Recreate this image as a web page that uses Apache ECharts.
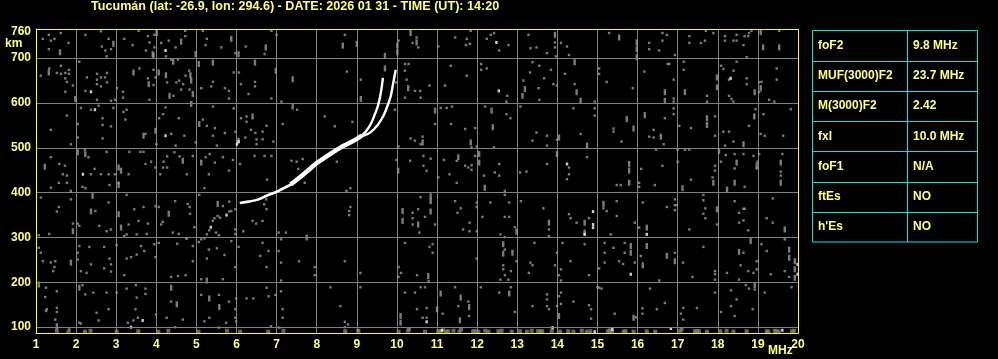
<!DOCTYPE html>
<html><head><meta charset="utf-8">
<script src="https://cdn.jsdelivr.net/npm/echarts@6/dist/echarts.min.js"></script>
<style>html,body{margin:0;padding:0;background:#000;}#c{width:998px;height:359px;}</style>
</head><body><div id="c"></div><script>
const titleText = 'Tucumán (lat: -26.9, lon: 294.6) - DATE: 2026 01 31 - TIME (UT): 14:20';
const xRange = [1, 20];
const yRange = [87, 765];
const yTicks = [100, 200, 300, 400, 500, 600, 700, 760];
const yGrid = [100, 200, 300, 400, 500, 600, 700];
const tableLabels = ['foF2', 'MUF(3000)F2', 'M(3000)F2', 'fxI', 'foF1', 'ftEs', "h'Es"];
const tableValues = ['9.8 MHz', '23.7 MHz', '2.42', '10.0 MHz', 'N/A', 'NO', 'NO'];

// trace (frequency MHz, virtual height km)
const traceLow = [[6.08,377],[6.3,380],[6.55,385],[6.75,393],[7.0,402],[7.2,411],[7.4,420]];
const traceMid = [[7.35,418],[7.55,432],[7.75,447],[8.0,466],[8.2,478],[8.4,490],[8.6,501],[8.8,510],[9.0,520],[9.12,527]];
const traceBranchA = [[9.12,527],[9.25,539],[9.37,557],[9.45,575],[9.52,592],[9.58,614],[9.62,635],[9.65,656]];
const traceBranchB = [[9.12,526],[9.2,528],[9.33,534],[9.51,550],[9.66,571],[9.79,600],[9.85,617],[9.89,636],[9.93,655],[9.97,674]];

const noiseDots = [
[1.32,752],[1.17,743],[1.37,739],[1.46,743],[1.62,756],[1.81,734],[1.32,720],[2.23,752],[2.62,760],[2.81,743],[2.64,726],[2.73,717],[2.87,720],[2.76,704],[3.2,743],[3.41,729],[3.56,761],[3.79,749],[3.95,752],[3.83,735],[3.95,724],[3.74,717],[4.12,734],[4.31,739],[4.24,704],[4.48,724],[4.72,761],[4.72,749],[5.26,743],[5.23,729],[5.16,761],[5.62,724],[5.97,711],[6.23,726],[6.7,709],[6.87,761],[7.0,752],
[1.33,677],[1.12,661],[1.52,667],[1.62,683],[1.62,665],[1.73,667],[1.82,674],[1.82,665],[1.73,655],[1.77,647],[1.92,639],[1.73,625],[2.08,692],[2.27,657],[2.23,627],[2.52,665],[2.52,652],[2.52,642],[2.62,657],[2.72,657],[2.77,667],[2.77,646],[2.62,637],[2.52,607],[3.02,633],[3.17,625],[3.17,612],[2.87,605],[2.97,607],[3.58,677],[3.79,655],[3.93,674],[3.98,657],[3.93,640],[3.83,607],[4.37,697],[4.54,697],[4.27,646],[4.43,616],[4.5,646],[4.57,650],[4.67,642],[4.82,672],[4.73,661],[4.62,630],[4.83,630],[5.12,633],[5.41,647],[5.37,637],[5.71,633],[5.81,627],[5.81,610],[5.93,668],[6.06,668],[6.11,642],[6.46,647],[6.46,637],[6.3,620],[6.87,610],[7.12,603],
[1.77,572],[1.37,540],[2.12,589],[2.37,585],[2.56,594],[2.66,566],[2.66,551],[2.87,548],[2.66,521],[2.04,553],[2.04,523],[1.87,508],[2.93,589],[3.18,580],[3.26,585],[3.23,563],[3.73,531],[4.07,566],[4.17,575],[4.23,590],[4.0,508],[4.37,531],[4.56,566],[4.7,527],[4.48,505],[4.98,512],[5.16,563],[5.26,549],[5.46,544],[5.41,592],[5.41,527],[5.51,505],[5.71,533],[5.93,588],[5.97,536],[6.11,566],[6.25,570],[6.25,558],[6.36,540],[6.47,533],[6.22,523],[6.5,519],[6.65,519],[6.5,508],[6.75,549],[6.65,536],[6.92,514],[7.15,553],
[1.37,479],[1.58,464],[1.72,460],[1.77,438],[1.67,441],[2.22,496],[2.31,479],[2.37,441],[2.46,453],[2.76,491],[2.62,441],[2.81,441],[2.97,441],[3.33,491],[3.31,441],[3.6,491],[3.68,491],[3.73,464],[3.87,469],[3.98,456],[4.18,469],[4.27,481],[4.17,456],[4.27,456],[4.1,441],[4.45,490],[4.58,481],[4.76,441],[4.91,482],[5.23,479],[5.33,486],[5.46,467],[5.66,479],[5.81,449],[5.91,473],[6.09,464],[5.31,441],[6.45,482],[6.7,482],[6.87,482],[6.76,429],
[8.7,752],[10.04,739],[10.39,734],[10.49,746],[10.53,724],[11.03,726],[11.45,746],[11.72,729],[11.82,732],[11.74,743],[11.84,761],[12.34,752],[12.24,743],[12.42,756],[12.55,717],[12.78,729],[13.28,752],[13.33,722],[13.48,724],[8.75,670],[9.1,652],[9.98,646],[10.2,687],[10.29,687],[10.2,672],[10.24,652],[10.2,612],[10.45,627],[10.58,627],[10.59,612],[10.81,639],[11.2,639],[11.34,683],[11.74,661],[12.1,687],[12.1,674],[12.24,677],[12.75,616],[12.73,603],[13.15,650],[13.32,668],[13.38,691],[13.55,683],[13.53,633],[13.55,607],[7.51,585],[8.2,570],[8.45,548],[8.89,558],[9.95,585],[11.09,589],[11.24,589],[11.37,592],[10.95,553],[11.35,553],[11.7,542],[11.95,544],[12.2,592],[12.73,575],[12.83,566],[13.08,592],[13.48,534],[13.38,516],[10.34,521],[10.45,516],[10.64,525],[10.59,508],[10.04,503],[11.86,501],[11.99,503],[12.42,501],[11.49,471],[11.17,473],[10.84,476],[10.66,482],[10.66,460],[10.33,471],[9.99,473],[10.74,449],[11.03,434],[11.31,441],[11.7,460],[11.78,456],[11.86,461],[11.86,451],[11.95,482],[12.17,438],[12.55,464],[12.44,445],[12.55,438],[13.07,445],[13.23,447],[8.5,469],[7.5,469],[7.65,475],[7.37,471],[7.54,453],
[13.94,735],[13.94,724],[14.09,734],[14.24,726],[13.74,711],[13.96,704],[14.29,707],[13.84,674],[14.19,665],[13.67,655],[13.9,642],[13.99,639],[14.43,642],[15.29,756],[15.04,677],[15.04,665],[15.23,647],[14.93,603],[15.88,633],[16.29,734],[16.29,720],[16.54,717],[16.62,756],[16.73,752],[16.62,739],[16.17,670],[16.75,687],[16.79,687],[16.9,652],[16.9,610],[16.9,603],[16.93,707],[17.15,692],[17.15,674],[17.29,749],[17.29,734],[17.58,734],[17.68,739],[17.7,761],[17.89,756],[17.73,616],[17.73,603],[18.08,683],[18.14,676],[18.28,652],[18.39,672],[18.47,692],[18.72,655],[18.72,642],[18.28,616],[18.34,609],[18.39,603],[18.18,749],[18.18,739],[18.39,739],[18.47,752],[18.47,739],[18.64,729],[18.67,749],[18.76,749],[18.78,756],[18.84,761],[18.72,702],[19.53,761],[19.47,677],[19.47,652],[19.03,646],[19.09,647],[19.03,624],[19.28,607],[19.41,603],
[14.4,588],[14.93,588],[14.93,572],[14.58,531],[13.74,527],[13.99,518],[13.74,505],[15.4,543],[15.4,536],[15.6,514],[16.4,540],[16.29,525],[16.4,523],[16.65,508],[16.68,566],[16.9,588],[16.9,575],[17.04,549],[17.33,544],[17.93,570],[17.93,527],[18.14,536],[18.28,536],[18.18,505],[18.39,514],[18.78,549],[19.07,531],[19.17,527],[19.14,575],[19.82,586],[19.63,527],[18.94,586],[13.74,464],[14.29,456],[14.29,441],[14.24,430],[14.74,479],[16.09,453],[16.46,496],[16.62,460],[17.0,496],[17.0,469],[17.18,496],[17.29,496],[17.33,429],[17.93,460],[17.93,449],[17.87,434],[18.08,469],[18.2,484],[18.42,486],[18.42,454],[18.64,486],[18.89,482],[18.99,469],[19.03,486],[18.97,454],[19.61,486],[19.57,447],[19.57,438],
[1.37,411],[1.57,422],[1.77,422],[1.87,404],[2.16,413],[2.23,410],[2.83,417],[3.06,422],[1.12,389],[1.57,368],[1.52,358],[1.87,385],[1.92,331],[2.04,331],[2.08,326],[2.48,359],[2.58,326],[2.81,378],[2.87,318],[2.76,314],[1.33,308],[1.07,305],[3.26,395],[3.31,329],[3.45,363],[3.2,303],[3.26,307],[3.51,307],[3.68,368],[3.76,308],[3.98,370],[4.06,368],[4.16,335],[4.12,329],[3.56,337],[3.79,331],[4.41,311],[4.56,308],[4.47,381],[4.78,375],[4.84,353],[4.76,298],[4.95,323],[4.83,368],[5.07,395],[5.2,410],[5.66,370],[5.82,380],[5.87,359],[5.97,363],[5.97,318],[5.97,308],[6.17,314],[6.4,337],[6.49,331],[6.65,337],[6.75,363],[6.69,374],[6.74,385],
[5.26,307],[5.32,316],[5.41,337],[5.53,348],[5.59,344],[5.49,311],[5.56,305],[5.82,358],[5.45,343],[5.2,298],[5.06,290],
[7.05,311],[7.23,311],[7.11,296],[7.05,270],[1.07,277],[1.12,266],[1.17,247],[1.37,244],[1.48,247],[1.46,234],[1.43,225],[2.08,281],[2.04,266],[2.04,251],[2.12,225],[2.26,221],[2.37,240],[2.33,279],[2.7,279],[2.7,231],[2.87,224],[2.87,240],[2.83,253],[3.01,283],[3.2,216],[3.26,253],[3.37,256],[3.51,262],[3.62,281],[3.7,270],[3.95,285],[3.98,256],[4.06,288],[4.37,212],[4.54,214],[4.73,216],[4.91,247],[4.91,281],[4.52,286],[4.75,298],[5.12,296],[5.31,273],[5.26,253],[5.51,276],[5.7,261],[5.87,292],[6.05,279],[5.97,234],[5.12,207],[5.66,207],[6.59,259],[6.75,234],[6.8,270],[6.65,288],[7.11,244],[7.11,204],
[1.25,188],[1.23,167],[1.27,140],[1.25,136],[1.52,180],[1.52,143],[1.52,134],[1.48,117],[2.16,194],[2.23,173],[2.43,177],[2.76,177],[2.51,132],[2.81,140],[2.56,115],[2.08,110],[2.12,108],[1.83,95],[3.01,177],[3.26,186],[3.49,194],[3.51,166],[3.73,186],[3.73,174],[3.48,140],[3.54,121],[3.43,115],[3.29,110],[3.99,128],[4.26,121],[4.37,157],[4.47,100],[4.66,117],[5.12,172],[5.56,172],[5.81,157],[5.97,140],[5.97,121],[5.32,121],[5.2,113],[5.56,99],[5.74,110],[5.99,113],[6.75,188],[6.8,169],[6.97,172],[7.11,180],[7.15,140],[7.15,121],[7.07,99],[6.86,102],[5.99,164],[6.25,164],[6.42,164],
[7.7,422],[8.74,404],[8.84,410],[8.84,368],[8.81,359],[8.81,350],[7.56,247],[7.95,234],[7.95,216],[8.7,247],[9.09,221],[8.34,189],[9.09,189],[8.59,147],[8.7,112],[8.78,106],[8.7,100],[9.03,93],[10.39,355],[10.39,343],[10.39,329],[10.53,363],[10.56,311],[10.7,346],[10.59,390],[10.95,329],[11.49,422],[11.45,381],[11.51,355],[11.59,365],[11.81,333],[11.65,318],[11.81,314],[11.99,378],[11.99,368],[11.99,314],[12.13,346],[12.33,378],[12.69,404],[12.69,395],[12.8,378],[12.69,346],[12.8,346],[12.94,323],[12.58,307],[12.69,301],[13.09,381],[13.65,365],[10.2,288],[10.81,279],[10.89,285],[10.89,266],[10.04,234],[10.1,221],[10.04,212],[10.5,216],[10.79,203],[11.99,253],[12.69,273],[12.65,238],[12.65,229],[12.69,216],[12.58,206],[12.78,206],[12.84,225],[12.98,247],[13.33,244],[13.38,238],[13.29,221],[13.43,288],[10.2,177],[10.45,177],[10.59,189],[10.7,189],[11.45,189],[10.5,140],[10.74,143],[11.14,130],[10.64,121],[10.74,121],[11.53,147],[11.78,157],[11.8,125],[12.09,189],[12.55,177],[12.84,189],[12.94,134],[13.38,147],
[15.48,417],[15.58,417],[16.04,422],[16.04,413],[16.43,417],[18.67,413],[13.79,318],[13.79,303],[14.29,352],[14.33,343],[14.48,333],[14.79,343],[15.15,365],[15.23,359],[15.33,307],[15.48,381],[15.48,348],[15.93,333],[16.04,322],[16.13,378],[16.73,368],[16.93,385],[16.93,372],[16.98,372],[16.93,361],[17.29,318],[17.64,395],[17.64,383],[17.69,365],[17.64,353],[17.69,343],[17.98,329],[18.42,381],[18.53,355],[18.64,364],[18.67,364],[18.53,333],[18.64,338],[18.76,316],[19.22,343],[19.37,387],[19.37,333],[19.67,296],[14.13,288],[14.33,247],[13.99,266],[13.94,238],[14.09,229],[14.04,216],[14.09,204],[14.68,285],[14.79,216],[15.18,288],[15.18,266],[15.18,244],[15.04,231],[15.04,188],[15.1,186],[15.4,277],[15.54,247],[15.68,288],[15.64,241],[15.68,266],[15.93,244],[16.08,259],[16.54,204],[16.93,266],[17.13,244],[17.37,212],[17.64,279],[17.93,225],[17.93,218],[17.93,206],[18.23,221],[18.64,266],[18.57,238],[18.76,225],[18.89,221],[18.97,229],[18.97,247],[18.53,206],[18.7,194],[18.78,186],[18.92,184],[19.09,285],[19.22,270],[19.32,218],[19.67,225],[19.78,212],[13.74,173],[13.74,162],[13.74,147],[13.79,140],[13.99,147],[14.04,169],[14.09,177],[14.09,152],[14.4,157],[14.79,149],[14.84,140],[14.84,119],[15.0,189],[15.43,130],[15.96,122],[16.12,142],[16.12,130],[16.31,186],[16.48,140],[16.68,154],[17.08,130],[17.14,143],[17.14,117],[17.48,143],[17.93,177],[18.08,134],[18.33,182],[18.33,147],[18.47,162],[18.42,125],[18.87,140],[19.17,177],[19.84,189]
];

const noiseDashes = [
[1.6,713],[4.01,756],[3.91,709],[4.62,737],[4.98,709],[5.87,743],[6.05,709],[6.73,724],[2.93,732],
[1.32,668],[1.98,609],[3.43,668],[3.81,642],[4.06,668],[4.24,662],[4.42,692],[4.33,616],[4.85,662],[4.87,650],[4.91,620],[5.06,687],[5.41,690],[6.46,690],[6.98,672],[3.93,705],
[3.68,527],[3.98,538],[4.87,598],[5.07,553],[6.05,516],[6.4,570],
[1.22,458],[2.04,490],[2.23,486],[3.06,456],[3.12,449],[4.66,471],[5.12,467],
[8.65,728],[9.0,732],[9.7,705],[10.01,728],[10.01,713],[10.34,756],[10.49,735],[7.4,653],[9.1,609],[9.7,677],[10.28,633],[13.13,616],[13.19,631],[7.4,592],[10.95,583],[12.36,583],[12.39,546],[11.84,512],[12.05,486],[12.05,467],[11.53,479],[10.03,449],[10.64,512],
[13.94,752],[14.43,691],[14.48,624],[14.58,605],[15.54,746],[15.98,735],[15.98,720],[15.98,702],[16.68,624],[16.68,605],[17.18,624],[17.98,657],[17.98,635],[19.07,758],[19.13,724],[19.53,724],[19.07,633],[18.92,624],[14.04,523],[14.74,505],[15.73,564],[15.9,543],[16.18,573],[16.58,525],[17.73,566],[17.73,551],[18.64,508],[18.91,570],[13.99,486],[15.79,464],[15.79,449],[18.03,493],[18.47,467],[19.57,467],[18.97,460],
[3.06,417],[2.41,393],[2.37,358],[1.92,314],[3.06,352],[3.12,322],[4.31,353],[5.53,375],[1.87,244],[5.26,204],[1.07,195],[1.52,102],[2.08,188],[4.37,188],[4.51,151],[5.32,164],[5.57,145],
[7.75,300],[10.14,359],[10.14,337],[10.84,392],[10.84,381],[10.84,358],[10.53,329],[12.19,411],[12.65,285],[12.65,264],[12.88,266],[10.78,214],[11.09,175],[11.59,166],[11.0,140],[10.09,125],[10.09,110],[11.8,145],[11.57,115],[12.8,175],[12.98,313],
[15.79,422],[17.12,410],[17.89,422],[18.23,407],[18.42,422],[19.57,422],[13.79,333],[14.68,333],[14.68,311],[15.15,375],[16.23,322],[16.23,281],[17.98,363],[19.67,318],[15.83,281],[15.83,266],[16.13,238],[16.73,259],[16.93,247],[18.53,268],[18.82,292],[19.78,273],[19.78,255],[19.92,247],[19.92,229],[19.92,210],[14.04,125],[15.9,121],[18.92,194]
];

const whiteDots = [
[4.23,717],[2.37,625],[2.47,585],[4.23,527],[6.01,508],[6.05,514],[2.17,441],[12.48,735],[12.54,627],[18.32,655],[14.24,464],
[5.36,323],[5.75,350],[3.37,100],[3.66,115],[10.74,112],[11.12,93],
[14.89,358],[14.89,329],[14.89,322],[14.68,307],[15.83,218],[16.23,307],[19.99,240],[19.99,218],[13.88,99],[14.93,90],[15.37,95],[16.83,97],[19.61,93]
];

const clutter = [
[1.52,92],[1.81,90],[2.22,90],[2.36,92],[3.01,90],[3.55,91],[4.05,90],[4.3,92],[5.05,90],[5.76,92],[6.09,90],[6.79,90],[7.17,92],[8.71,91],[9.04,92],
[10.04,90],[10.28,92],[10.3,96],[10.7,90],[11.03,91],[11.08,91],[11.16,93],[11.22,90],[11.28,91],[11.41,92],[11.56,90],[11.6,95],[11.9,91],[11.95,91],[12.03,90],[12.2,92],[12.28,90],[12.53,91],[12.61,92],[12.86,90],[13.07,91],[13.24,90],[13.36,92],[13.52,91],[13.57,91],[13.62,91],[13.86,92],[14.07,90],[14.27,91],[14.4,90],[14.61,92],[14.73,90],[14.82,91],[15.26,91],[15.31,93],[15.36,91],[15.65,90],[15.7,91],[15.9,90],[16.23,91],[16.44,90],[17.06,92],[17.1,95],[17.43,91],[17.48,91],[17.53,91],[17.73,90],[18.06,91],[18.22,92],[18.39,90],[18.72,91],[19.22,91],[19.26,90],[19.42,92],[19.47,91],[19.52,90],[19.85,91],[19.9,92]
];

const GRID = {left: 36, top: 29, width: 762, height: 304};
const TXT = '#ffff80', AX = '#ffff00', GR = '#808080', DOT = '#9a9a9a', CY = '#10e0e0';
const FONT = "'Liberation Sans', Arial, sans-serif";

const chart = echarts.init(document.getElementById('c'), null, {renderer: 'canvas'});

const tbl = {x: 812.5, y: 30.5, w: 165, h: 211.5, col: 907.5};
const rowH = tbl.h / tableLabels.length;
const graphics = [
  {type: 'text', left: 91, top: 0, style: {text: titleText, fill: TXT, font: 'bold 12.6px ' + FONT}},
  {type: 'text', left: 5, top: 38, style: {text: 'km', fill: TXT, font: 'bold 12px ' + FONT}},
  {type: 'text', left: 768, top: 345, style: {text: 'MHz', fill: TXT, font: 'bold 12px ' + FONT}},
  {type: 'rect', z: 100, shape: {x: GRID.left + 0.5, y: GRID.top + 0.5, width: GRID.width, height: GRID.height}, style: {fill: 'none', stroke: AX, lineWidth: 1}},
  {type: 'rect', shape: {x: tbl.x, y: tbl.y, width: tbl.w, height: tbl.h}, style: {fill: 'none', stroke: CY, lineWidth: 1}},
  {type: 'line', shape: {x1: tbl.col, y1: tbl.y, x2: tbl.col, y2: tbl.y + tbl.h}, style: {stroke: CY, lineWidth: 1}}
];
tableLabels.forEach((lab, i) => {
  const yc = tbl.y + rowH * (i + 0.5);
  if (i > 0) {
    const yy = Math.round(tbl.y + rowH * i) + 0.5;
    graphics.push({type: 'line', shape: {x1: tbl.x, y1: yy, x2: tbl.x + tbl.w, y2: yy}, style: {stroke: CY, lineWidth: 1}});
  }
  graphics.push({type: 'text', x: 818, y: yc, style: {text: lab, fill: TXT, font: 'bold 12px ' + FONT, textVerticalAlign: 'middle'}});
  graphics.push({type: 'text', x: 913, y: yc, style: {text: tableValues[i], fill: TXT, font: 'bold 12px ' + FONT, textVerticalAlign: 'middle'}});
});

const sq = (data, size, color, z) => ({
  type: 'scatter', data: data, symbol: 'rect', symbolSize: size, z: z,
  itemStyle: {color: color}, silent: true, animation: false
});

chart.setOption({
  backgroundColor: '#000',
  animation: false,
  grid: {left: GRID.left, top: GRID.top, width: GRID.width, height: GRID.height, containLabel: false},
  xAxis: {
    type: 'value', min: xRange[0], max: xRange[1], interval: 1,
    axisLine: {show: true, lineStyle: {color: AX, width: 1}},
    axisTick: {show: false},
    axisLabel: {color: TXT, fontWeight: 'bold', fontSize: 12, fontFamily: FONT, margin: 6, showMinLabel: true, showMaxLabel: true},
    splitLine: {show: true, lineStyle: {color: GR, width: 1}}
  },
  yAxis: {
    type: 'value', min: yRange[0], max: yRange[1],
    axisLine: {show: true, lineStyle: {color: AX, width: 1}},
    axisTick: {show: false, customValues: yTicks},
    axisLabel: {color: TXT, fontWeight: 'bold', fontSize: 12, fontFamily: FONT, margin: 5, customValues: yTicks},
    splitLine: {show: false}
  },
  graphic: graphics,
  series: [
    {type: 'scatter', data: [], z: 1, silent: true,
     markLine: {silent: true, symbol: ['none', 'none'], animation: false, label: {show: false},
       lineStyle: {color: GR, width: 1, type: 'solid'},
       data: yGrid.map(v => ({yAxis: v}))}},
    sq(clutter, [4, 4], GR, 2),
    sq(noiseDots, [2.4, 2.4], DOT, 3),
    sq(noiseDashes, [2.4, 6], DOT, 3),
    sq(whiteDots, [2.4, 3], '#ffffff', 4),
    {type: 'line', data: traceLow, showSymbol: false, smooth: 0.3, z: 5, silent: true, lineStyle: {color: '#fff', width: 2.6}},
    {type: 'line', data: traceMid, showSymbol: false, smooth: 0.3, z: 5, silent: true, lineStyle: {color: '#fff', width: 4.5}},
    {type: 'line', data: traceBranchA, showSymbol: false, smooth: 0.3, z: 5, silent: true, lineStyle: {color: '#fff', width: 2.4}},
    {type: 'line', data: traceBranchB, showSymbol: false, smooth: 0.3, z: 5, silent: true, lineStyle: {color: '#fff', width: 2.4}}
  ]
});
</script></body></html>
